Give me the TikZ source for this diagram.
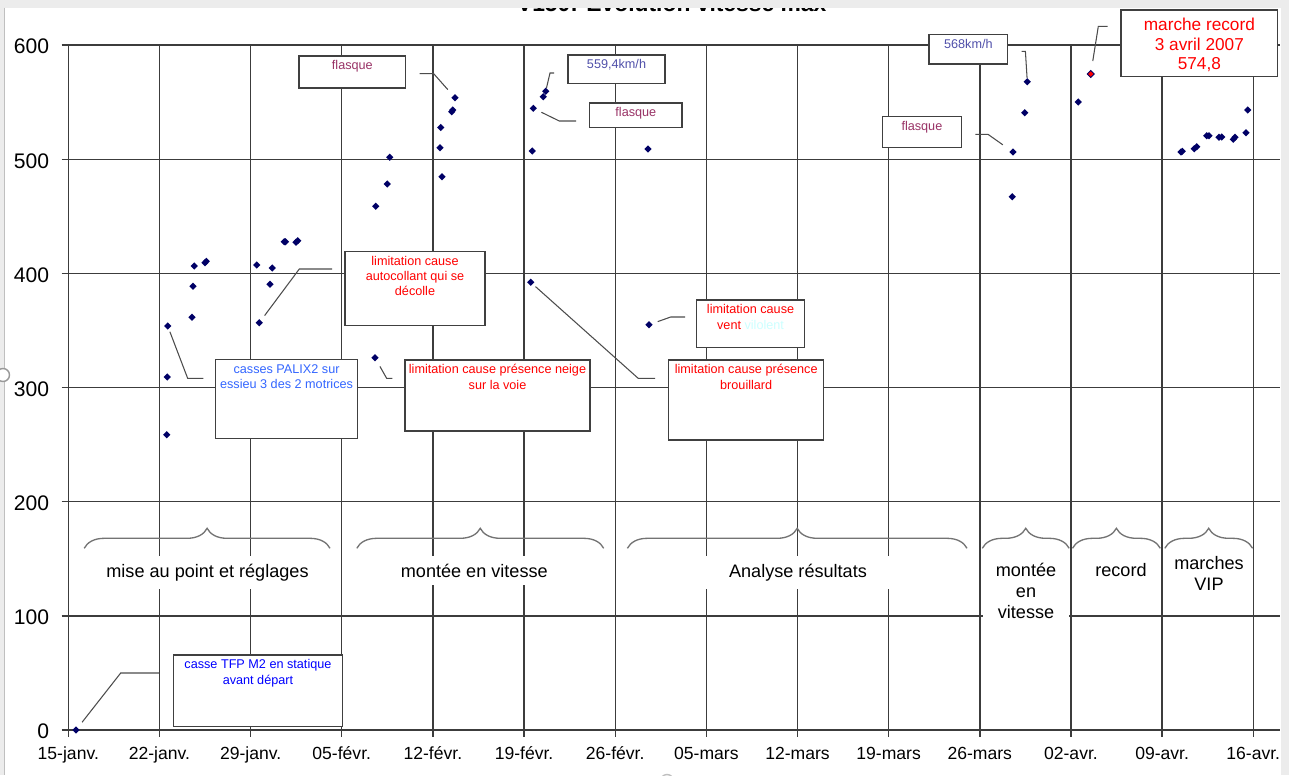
\documentclass[tikz,border=0pt]{standalone}
\usepackage{fontspec}
\setmainfont{Liberation Sans}
\usetikzlibrary{shapes.geometric,decorations.pathreplacing}

\newdimen\px \px=0.02cm
\newcommand\boxfont{\fontsize{7.2}{8.7}\selectfont}
\newcommand\recfont{\fontsize{9.8}{11.2}\selectfont}
\newcommand\lblfont{\fontsize{10.3}{11.8}\selectfont}
\newcommand\tickfont{\fontsize{10}{12}\selectfont}
\newcommand\axisfont{\fontsize{12}{14}\selectfont}

\definecolor{ptnavy}{RGB}{0,0,102}
\definecolor{gridc}{RGB}{60,60,60}
\definecolor{flasq}{RGB}{153,51,102}
\definecolor{kmh}{RGB}{80,80,170}
\definecolor{palix}{RGB}{51,102,255}
\definecolor{tfp}{RGB}{0,0,255}
\definecolor{pale}{RGB}{204,255,255}
\definecolor{framec}{RGB}{236,236,236}

\begin{document}
\begin{tikzpicture}[x=0.02cm, y=-0.02cm,
  grid/.style={draw=gridc, line width=0.8pt},
  pt/.style={diamond, fill=ptnavy, inner sep=0pt, minimum size=7.5\px},
  cbox/.style={draw=black!75, line width=0.8pt, fill=white, anchor=north west, inner sep=0pt},
  ctext/.style={anchor=north, yshift=-5\px, inner sep=0pt, align=center, font=\boxfont},
  leader/.style={draw=black!70, line width=0.6pt},
  brc/.style={draw=black!55, line width=0.75pt, decorate, decoration={brace, amplitude=20\px}},
  blbl/.style={fill=white, anchor=north, align=center, font=\lblfont, inner xsep=4\px, inner ysep=8\px},
  ytick/.style={anchor=east, inner sep=0pt, font=\axisfont},
  xtick/.style={anchor=base, inner sep=0pt, font=\tickfont}]
  \useasboundingbox (0,0) rectangle (1289,775);
  \fill[white] (0,0) rectangle (1289,775);

  % horizontal grid
  \draw[grid] (61.7,730) -- (1279.5,730);
  \draw[grid] (61.7,615.8) -- (1279.5,615.8);
  \draw[grid] (61.7,501.7) -- (1279.5,501.7);
  \draw[grid] (61.7,387.5) -- (1279.5,387.5);
  \draw[grid] (61.7,273.3) -- (1279.5,273.3);
  \draw[grid] (61.7,159.2) -- (1279.5,159.2);
  \draw[grid] (61.7,45) -- (1279.5,45);
  \node[ytick] (y0) at (49.5,731.7) {0};
  \node[ytick] (y100) at (49.5,617.5) {100};
  \node[ytick] (y200) at (49.5,503.4) {200};
  \node[ytick] (y300) at (49.5,389.2) {300};
  \node[ytick] (y400) at (49.5,275) {400};
  \node[ytick] (y500) at (49.5,160.9) {500};
  \node[ytick] (y600) at (49.5,46.7) {600};

  % vertical grid
  \draw[grid] (68.3,45) -- (68.3,737);
  \draw[grid] (159.45,45) -- (159.45,737);
  \draw[grid] (250.6,45) -- (250.6,737);
  \draw[grid] (341.75,45) -- (341.75,737);
  \draw[grid] (432.9,45) -- (432.9,737);
  \draw[grid] (524.05,45) -- (524.05,737);
  \draw[grid] (615.2,45) -- (615.2,737);
  \draw[grid] (706.35,45) -- (706.35,737);
  \draw[grid] (797.5,45) -- (797.5,737);
  \draw[grid] (888.65,45) -- (888.65,737);
  \draw[grid] (979.8,45) -- (979.8,737);
  \draw[grid] (1070.95,45) -- (1070.95,737);
  \draw[grid] (1162.1,45) -- (1162.1,737);
  \draw[grid] (1253.25,45) -- (1253.25,737);
  \node[xtick] (d0) at (68.3,759.3) {15-janv.};
  \node[xtick] (d1) at (159.45,759.3) {22-janv.};
  \node[xtick] (d2) at (250.6,759.3) {29-janv.};
  \node[xtick] (d3) at (341.75,759.3) {05-févr.};
  \node[xtick] (d4) at (432.9,759.3) {12-févr.};
  \node[xtick] (d5) at (524.05,759.3) {19-févr.};
  \node[xtick] (d6) at (615.2,759.3) {26-févr.};
  \node[xtick] (d7) at (706.35,759.3) {05-mars};
  \node[xtick] (d8) at (797.5,759.3) {12-mars};
  \node[xtick] (d9) at (888.65,759.3) {19-mars};
  \node[xtick] (d10) at (979.8,759.3) {26-mars};
  \node[xtick] (d11) at (1070.95,759.3) {02-avr.};
  \node[xtick] (d12) at (1162.1,759.3) {09-avr.};
  \node[xtick] (d13) at (1253.25,759.3) {16-avr.};

  % phases
  \node[blbl] (mise) at (207.5,555.5) {mise au point et réglages};
  \node[blbl] (monte1) at (474.3,555.5) {montée en vitesse};
  \node[blbl, minimum width=192\px] (analyse) at (798,555.5) {Analyse résultats};
  \node[blbl, minimum width=86\px] (monte2) at (1026,555) {montée\\en\\vitesse};
  \node[blbl] (record) at (1121,555) {record};
  \node[blbl] (vip) at (1209,548.3) {marches\\VIP};
  \draw[brc] (84.2,548.3) -- (330,548.3);
  \draw[brc] (356.8,548.3) -- (603.7,548.3);
  \draw[brc] (627.4,548.3) -- (967,548.3);
  \draw[brc] (982.3,548.3) -- (1069.2,548.3);
  \draw[brc] (1072.5,548.3) -- (1160.3,548.3);
  \draw[brc] (1164.8,548.3) -- (1252.6,548.3);

  % measured runs
  \node[pt] (p1) at (76,730) {};
  \node[pt] (p2) at (166.7,434.7) {};
  \node[pt] (p3) at (167.3,377) {};
  \node[pt] (p4) at (167.7,326) {};
  \node[pt] (p5) at (192,317.3) {};
  \node[pt] (p6) at (193,286.3) {};
  \node[pt] (p7) at (194.3,266) {};
  \node[pt] (p8) at (205,262.7) {};
  \node[pt] (p9) at (206.3,261.3) {};
  \node[pt] (p10) at (256.7,265) {};
  \node[pt] (p11) at (259.3,322.7) {};
  \node[pt] (p12) at (270,284.3) {};
  \node[pt] (p13) at (272.3,268) {};
  \node[pt] (p14) at (284.3,241.7) {};
  \node[pt] (p15) at (285.5,241.7) {};
  \node[pt] (p16) at (296,242.3) {};
  \node[pt] (p17) at (297.7,240.7) {};
  \node[pt] (p18) at (375,357.7) {};
  \node[pt] (p19) at (375.7,206.3) {};
  \node[pt] (p20) at (387.3,184) {};
  \node[pt] (p21) at (389.7,157.3) {};
  \node[pt] (p22) at (440,147.7) {};
  \node[pt] (p23) at (440.7,127.5) {};
  \node[pt] (p24) at (442,176.7) {};
  \node[pt] (p25) at (451.7,111.7) {};
  \node[pt] (p26) at (452.7,110) {};
  \node[pt] (p27) at (455,97.7) {};
  \node[pt] (p28) at (530.7,282.3) {};
  \node[pt] (p29) at (532.3,151) {};
  \node[pt] (p30) at (533.3,108.3) {};
  \node[pt] (p31) at (543.3,96.7) {};
  \node[pt] (p32) at (545.7,91.3) {};
  \node[pt] (p33) at (649,324.7) {};
  \node[pt] (p34) at (648,149) {};
  \node[pt] (p35) at (1012.3,196.7) {};
  \node[pt] (p36) at (1013,152) {};
  \node[pt] (p37) at (1024.7,112.7) {};
  \node[pt] (p38) at (1027.3,81.7) {};
  \node[pt] (p39) at (1078.3,102) {};
  \node[pt, fill=red, draw=ptnavy, line width=0.5pt] (p40) at (1090.7,74) {};
  \node[pt] (p41) at (1181,152) {};
  \node[pt] (p42) at (1182.3,151.3) {};
  \node[pt] (p43) at (1194.3,148.7) {};
  \node[pt] (p44) at (1196.7,146.7) {};
  \node[pt] (p45) at (1206.7,135.7) {};
  \node[pt] (p46) at (1209,135.7) {};
  \node[pt] (p47) at (1219,137.3) {};
  \node[pt] (p48) at (1221.7,137) {};
  \node[pt] (p49) at (1233.3,139.3) {};
  \node[pt] (p50) at (1235,137.3) {};
  \node[pt] (p51) at (1246,132.7) {};
  \node[pt] (p52) at (1247.7,110) {};

  % callouts
  \node[cbox, minimum width=106.7\px, minimum height=32\px, label={[ctext, text=flasq]north:flasque}] (fla1) at (298.3,55.3) {};
  \node[cbox, minimum width=97\px, minimum height=28.7\px, label={[ctext, text=kmh]north:559,4km/h}] (kmh1) at (567.3,54.3) {};
  \node[cbox, minimum width=92.3\px, minimum height=24.7\px, label={[ctext, text=flasq]north:flasque}] (fla2) at (589,102.3) {};
  \node[cbox, minimum width=78.7\px, minimum height=29.3\px, label={[ctext, text=kmh]north:568km/h}] (kmh2) at (928.3,34) {};
  \node[cbox, minimum width=156.7\px, minimum height=66.4\px, label={[ctext, yshift=-3.4\px, text=red, font=\recfont]north:marche record\\3 avril 2007\\574,8}] (rec) at (1120.3,9.3) {};
  \node[cbox, minimum width=79\px, minimum height=31\px, label={[ctext, text=flasq]north:flasque}] (fla3) at (881.7,115.7) {};
  \node[cbox, minimum width=140\px, minimum height=74\px, label={[ctext, text=red]north:limitation cause\\autocollant qui se\\décolle}] (autoc) at (344.3,250.7) {};
  \node[cbox, minimum width=141.7\px, minimum height=78.7\px, label={[ctext, text=palix]north:casses PALIX2 sur\\essieu 3 des 2 motrices}] (palixb) at (215,359) {};
  \node[cbox, minimum width=185\px, minimum height=71\px, label={[ctext, text=red]north:limitation cause présence neige\\sur la voie}] (neige) at (404.3,359.3) {};
  \node[cbox, minimum width=107.7\px, minimum height=47.7\px, label={[ctext, text=red]north:limitation cause\\vent \textcolor{pale}{vilolent}}] (vent) at (696,299.3) {};
  \node[cbox, minimum width=155\px, minimum height=80\px, label={[ctext, text=red]north:limitation cause présence\\brouillard}] (brouil) at (668,359.3) {};
  \node[cbox, minimum width=168.5\px, minimum height=71.7\px, label={[ctext, text=tfp]north:casse TFP M2 en statique\\avant départ}] (tfpb) at (173,654.3) {};

  \draw[leader, shorten >=8\px] ([xshift=13.3\px, yshift=-1.7\px]fla1.east) -- ++(14,0) -- (p27);
  \draw[leader] ([xshift=-13.3\px, yshift=-3.65\px]kmh1.west) -- ++(-4,0) -- (p32);
  \draw[leader, shorten >=6\px] ([xshift=-13\px, yshift=-5.65\px]fla2.west) -- ++(-16.7,0) -- (p30);
  \draw[leader] ([xshift=13.3\px, yshift=-2\px]kmh2.east) -- ++(3.7,0) -- (p38);
  \draw[leader, shorten >=9.5\px] ([xshift=-12.6\px, yshift=16.8\px]rec.west) -- ++(-9.4,0) -- (p40);
  \draw[leader, shorten >=9.5\px] ([xshift=13.3\px, yshift=-2.5\px]fla3.east) -- ++(12.7,0) -- (p36);
  \draw[leader, shorten >=6\px] ([xshift=-12.3\px, yshift=19.4\px]autoc.west) -- ++(-32.7,0) -- (p11);
  \draw[leader, shorten >=3\px] ([xshift=-11.7\px, yshift=20.65\px]palixb.west) -- ++(-15.6,0) -- (p4);
  \draw[leader, shorten >=7\px] ([xshift=-12\px, yshift=17.1\px]neige.west) -- ++(-5.6,0) -- (p18);
  \draw[leader, shorten >=6\px] ([xshift=-11\px, yshift=6.85\px]vent.west) -- ++(-14.3,0) -- (p33);
  \draw[leader, shorten >=3.5\px] ([xshift=-13\px, yshift=21.6\px]brouil.west) -- ++(-16.7,0) -- (p28);
  \draw[leader, shorten >=7\px] ([xshift=-14\px, yshift=17.85\px]tfpb.west) -- ++(-38.3,0) -- (p1);

  % title, cut by the window frame
  \node[anchor=base, inner sep=0pt, font=\bfseries\fontsize{13}{15}\selectfont] (title) at (671.7,11.5) {V150: Evolution vitesse max};
  \fill[framec] (0,0) rectangle (1289,7.5);
  \fill[framec] (1280.5,0) rectangle (1289,775);
  \fill[framec] (0,0) rectangle (4,775);
  \draw[black!25, line width=0.6pt] (4.5,7.5) -- (4.5,775);
  \draw[black!40, line width=0.8pt, fill=white] (3,375) circle[radius=6.5\px];
  \draw[black!25, line width=0.8pt, fill=white] (667,781) circle[radius=6.5\px];
\end{tikzpicture}
\end{document}
